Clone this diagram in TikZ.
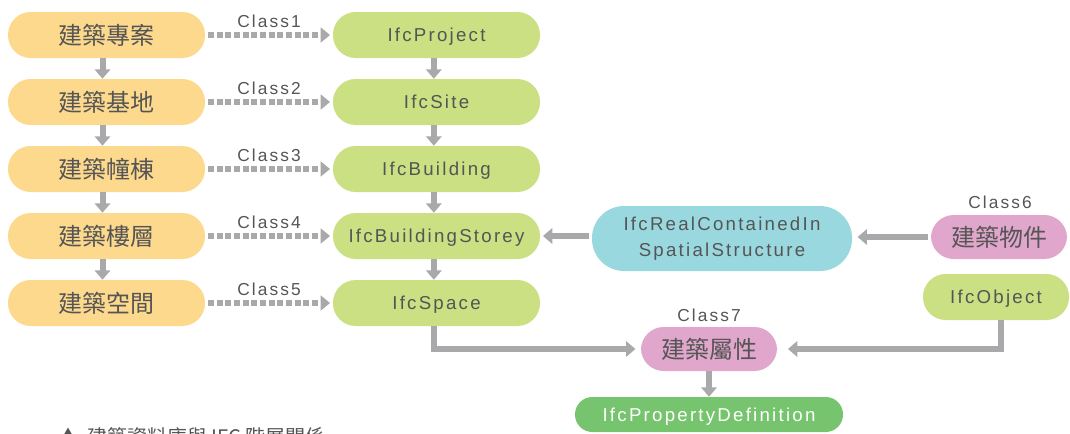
\documentclass[tikz,border=0pt]{standalone}
\usepackage{fontspec}
\usetikzlibrary{arrows.meta,calc}
\setmainfont{Liberation Sans}
\newfontfamily\latin[LetterSpace=12]{Liberation Sans}
\newfontfamily\cjk{Noto Sans CJK TC}
\definecolor{yel}{HTML}{FDD98E}
\definecolor{lgreen}{HTML}{CBDF83}
\definecolor{cyanb}{HTML}{9AD8DF}
\definecolor{pinkb}{HTML}{E0A6CB}
\definecolor{dgreen}{HTML}{77C46F}
\definecolor{arr}{HTML}{A9A9AC}
\definecolor{txt}{HTML}{555555}
\tikzset{
  box/.style={rounded corners=17pt, inner sep=0pt, text=txt, align=center},
  ybox/.style={box, fill=yel, minimum width=147.75pt, minimum height=34.5pt, font=\cjk\fontsize{18}{20}\selectfont},
  gbox/.style={box, fill=lgreen, minimum width=155.25pt, minimum height=34.5pt, text depth=0pt, font=\latin\fontsize{14}{17}\selectfont},
  pbox/.style={box, fill=pinkb, minimum width=102pt, minimum height=33pt, font=\cjk\fontsize{18}{20}\selectfont},
  cls/.style={text=txt, inner sep=0pt, text depth=0pt, font=\latin\fontsize{13}{15}\selectfont},
  varr/.style={draw=arr, line width=4.5pt, -{Triangle[width=11.5pt,length=7pt]}},
  darr/.style={draw=arr, line width=4.5pt, dash pattern=on 4.5pt off 2pt, -{Triangle[width=11pt,length=7pt]}},
}
\begin{document}
\begin{tikzpicture}[x=0.75pt,y=-0.75pt]
\path[use as bounding box] (0,0) rectangle (1070,433);
\clip (0,0) rectangle (1070,433);
% left column
\node[ybox] (y1) at (106.5,35) {建築專案};
\node[ybox] (y2) at (106.5,102) {建築基地};
\node[ybox] (y3) at (106.5,169) {建築幢棟};
\node[ybox] (y4) at (106.5,236) {建築樓層};
\node[ybox] (y5) at (106.5,303) {建築空間};
% green column
\node[gbox] (g1) at (436.5,35) {IfcProject};
\node[gbox] (g2) at (436.5,102) {IfcSite};
\node[gbox] (g3) at (436.5,169) {IfcBuilding};
\node[gbox] (g4) at (436.5,236) {IfcBuildingStorey};
\node[gbox] (g5) at (436.5,303) {IfcSpace};
% vertical arrows
\foreach \a/\b in {y1/y2,y2/y3,y3/y4,y4/y5}{
  \draw[varr] ([xshift=-3pt]\a.south) -- ([xshift=-3pt]\b.north);
}
\foreach \a/\b in {g1/g2,g2/g3,g3/g4,g4/g5}{
  \draw[varr] ([xshift=-2pt]\a.south) -- ([xshift=-2pt]\b.north);
}
% dotted arrows with class labels
\foreach \i in {1,...,5}{
  \draw[darr] ([xshift=2pt]y\i.east) -- ([xshift=-2pt]g\i.west);
  \node[cls] (c\i) at ($(y\i.east)!0.5!(g\i.west)+(0,-14)$) {Class\i};
}
% right part
\node[box, fill=cyanb, minimum width=195pt, minimum height=48.75pt, rounded corners=24pt, font=\latin\fontsize{14}{19}\selectfont] (rc) at (722,238.5) {IfcRealContainedIn\\SpatialStructure};
\node[pbox] (p6) at (999,237) {建築物件};
\node[cls] (c6) at (1000,202) {Class6};
\node[gbox, minimum width=109.5pt] (obj) at (996,297) {IfcObject};
\node[pbox] (p7) at (709,349) {建築屬性};
\node[cls] (c7) at (709,315) {Class7};
\node[box, fill=dgreen, text=white, rounded corners=13pt, minimum width=201pt, minimum height=26.25pt, text depth=0pt, font=\latin\fontsize{14}{17}\selectfont] (pd) at (709,414.5) {IfcPropertyDefinition};
\draw[varr] ([xshift=-2pt]p6.west) -- ([xshift=4pt]rc.east |- p6.west);
\draw[varr] ([xshift=-2pt]rc.west |- g4.east) -- ([xshift=2pt]g4.east);
\draw[varr] ([xshift=-2.25pt]g5.south) |- ([xshift=-4pt]p7.west);
\draw[varr] ([xshift=3.75pt]obj.south) |- ([xshift=8pt]p7.east);
\draw[varr] (p7.south) -- (pd.north);
% caption (cut off at the lower edge, as in the reference)
\node[anchor=west, text=txt, inner sep=0pt, font=\cjk\fontsize{15}{18}\selectfont] (cap) at (58,437) {▲\ \ 建築資料庫與 IFC 階層關係};
\end{tikzpicture}
\end{document}
